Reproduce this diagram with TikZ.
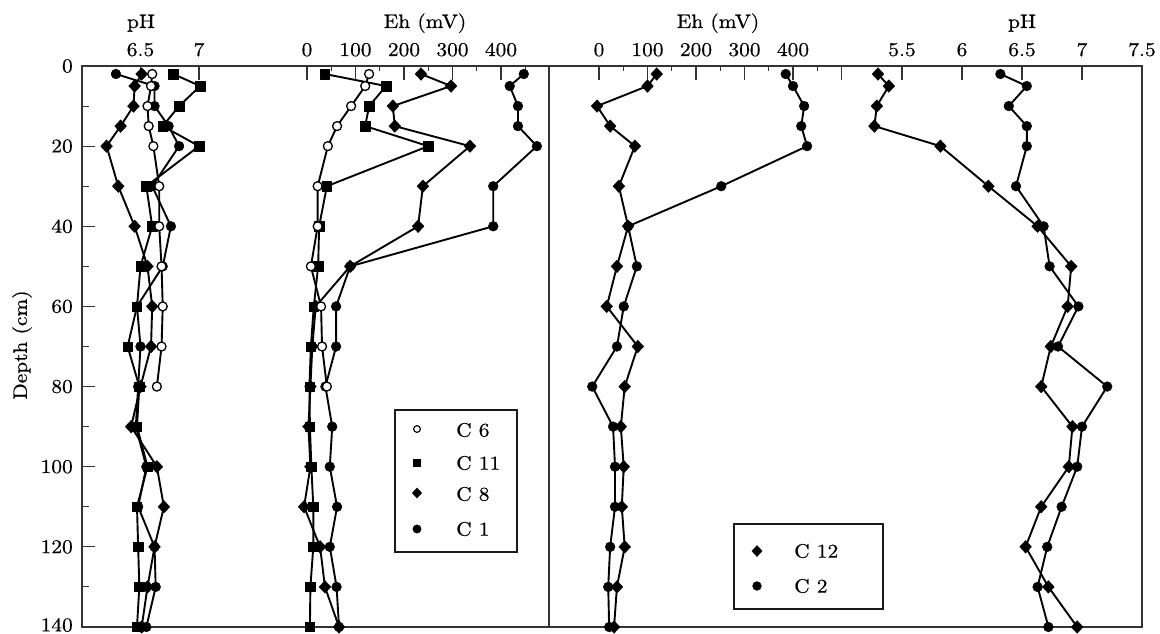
\documentclass[tikz,border=0pt]{standalone}
\usepackage{fontspec}
\setmainfont{lmroman10-regular.otf}[FakeBold=0.6, FakeStretch=1.1]
\usetikzlibrary{plotmarks}
\tikzset{
  lab/.style={font=\fontsize{19.5}{23}\selectfont, inner sep=0pt},
  frame/.style={line width=1.2pt, black!80},
  tickmaj/.style={line width=1.1pt, black!80},
  series/.style={line width=1.9pt, line join=round, black},
  mOpen/.style={mark=*, mark size=4.5pt, mark options={fill=white, draw=black, line width=1.3pt}},
  mSq/.style={mark=square*, mark size=4.7pt, mark options={fill=black, draw=black, line width=0.4pt}},
  mDia/.style={mark=diamond*, mark size=6.3pt, mark options={fill=black, draw=black, xscale=1.25, line width=0.4pt}},
  mDot/.style={mark=*, mark size=4.9pt, mark options={fill=black, draw=black, line width=0.4pt}},
  legbox/.style={line width=2pt, black!90},
}
\begin{document}
\begin{tikzpicture}[x=1pt,y=-1pt]
\useasboundingbox (0,0) rectangle (1160,634);

% ---------- frame ----------
\draw[frame] (82,66) rectangle (1142,627);
\draw[frame] (549,66) -- (549,627);

% ---------- depth axis ----------
\foreach \d in {0,20,...,120} {
  \draw[tickmaj] (82,{66+4.007*\d}) -- ++(13,0);
  \node[lab, anchor=east] (dl\d) at (73,{66+4.007*\d}) {\d};
}
\draw[tickmaj] (82,627) -- ++(13,0);
\node[lab, anchor=east] (dl140) at (73,625) {140};
\foreach \d in {10,30,...,130}
  \draw[tickmaj] (82,{66+4.007*\d}) -- ++(7,0);
\node[lab, rotate=90] (depthlab) at (22,345) {Depth (cm)};

% ---------- top axes: left pH ----------
\foreach \p/\n in {6.5/a,7/b} {
  \draw[tickmaj] ({82+(\p-6)*117},66) -- ++(0,14);
  \node[lab, anchor=base] (lph\n) at ({82+(\p-6)*117},56) {\p};
}
\node[lab, anchor=base] (lphtitle) at (141,28) {pH};

% ---------- top axes: left Eh ----------
\foreach \e in {0,100,...,400} {
  \draw[tickmaj] ({307+0.485*\e},66) -- ++(0,14);
  \node[lab, anchor=base] (leh\e) at ({307+0.485*\e},56) {\e};
}
\foreach \e in {50,150,...,450}
  \draw[tickmaj] ({307+0.485*\e},66) -- ++(0,5);
\node[lab, anchor=base] (lehtitle) at (425,28) {Eh (mV)};

% ---------- top axes: right Eh ----------
\foreach \e in {0,100,...,500}
  \draw[tickmaj] ({599+0.485*\e},66) -- ++(0,14);
\foreach \e in {0,100,...,400}
  \node[lab, anchor=base] (reh\e) at ({599+0.485*\e},56) {\e};
\foreach \e in {50,150,...,450}
  \draw[tickmaj] ({599+0.485*\e},66) -- ++(0,5);
\node[lab, anchor=base] (rehtitle) at (718,28) {Eh (mV)};

% ---------- top axes: right pH ----------
\foreach \p/\n in {5.5/a,6/b,6.5/c,7/d} {
  \draw[tickmaj] ({902+(\p-5.5)*120},66) -- ++(0,14);
  \node[lab, anchor=base] (rph\n) at ({902+(\p-5.5)*120},56) {\p};
}
\node[lab, anchor=base] (rphe) at (1142,56) {7.5};
\node[lab, anchor=base] (rphtitle) at (1022,28) {pH};

% ---------- left panel: pH ----------
\begin{scope}[shift={(-620,66)}, x=117pt, y=-4.007pt]
\draw[series, mSq] plot coordinates {(6.78,2) (7.01,5) (6.83,10) (6.69,15) (7.00,20) (6.55,30) (6.60,40) (6.50,50) (6.47,60) (6.39,70) (6.49,80) (6.47,90) (6.56,100) (6.47,110) (6.48,120) (6.49,130) (6.47,140)};
\draw[series, mDia] plot coordinates {(6.51,2) (6.45,5) (6.44,10) (6.33,15) (6.21,20) (6.31,30) (6.45,40) (6.56,50) (6.60,60) (6.59,70) (6.50,80) (6.42,90) (6.64,100) (6.70,110) (6.62,120) (6.56,130) (6.51,140)};
\draw[series, mDot] plot coordinates {(6.29,2) (6.62,5) (6.62,10) (6.74,15) (6.83,20) (6.60,30) (6.76,40) (6.69,50) (6.47,60) (6.50,70) (6.48,80) (6.46,90) (6.55,100) (6.48,110) (6.62,120) (6.63,130) (6.55,140)};
\draw[series, mOpen] plot coordinates {(6.60,2) (6.59,5) (6.56,10) (6.57,15) (6.61,20) (6.66,30) (6.66,40) (6.68,50) (6.69,60) (6.68,70) (6.64,80)};
\end{scope}

% ---------- left panel: Eh ----------
\begin{scope}[shift={(307,66)}, x=0.485pt, y=-4.007pt]
\draw[series, mSq] plot coordinates {(37,2) (163,5) (128,10) (120,15) (250,20) (41,30) (25,40) (23,50) (14,60) (8,70) (5,80) (6,90) (9,100) (13,110) (13,120) (7,130) (6,140)};
\draw[series, mDia] plot coordinates {(235,2) (297,5) (177,10) (181,15) (336,20) (239,30) (229,40) (89,50) (18,60) (11,70) (7,80) (3,90) (7,100) (-6,110) (27,120) (37,130) (66,140)};
\draw[series, mDot] plot coordinates {(447,2) (418,5) (435,10) (435,15) (474,20) (384,30) (384,40) (89,50) (60,60) (60,70) (38,80) (52,90) (47,100) (62,110) (47,120) (61,130) (66,140)};
\draw[series, mOpen] plot coordinates {(128,2) (120,5) (91,10) (62,15) (43,20) (22,30) (22,40) (8,50) (29,60) (31,70) (41,80)};
\end{scope}

% ---------- right panel: Eh ----------
\begin{scope}[shift={(599,66)}, x=0.485pt, y=-4.007pt]
\draw[series, mDia] plot coordinates {(119,2) (100,5) (-4,10) (23,15) (74,20) (41,30) (60,40) (37,50) (16,60) (80,70) (53,80) (45,90) (51,100) (47,110) (53,120) (37,130) (31,140)};
\draw[series, mDot] plot coordinates {(385,2) (400,5) (423,10) (417,15) (429,20) (252,30) (60,40) (78,50) (51,60) (37,70) (-14,80) (29,90) (33,100) (33,110) (23,120) (19,130) (21,140)};
\end{scope}

% ---------- right panel: pH ----------
\begin{scope}[shift={(242,66)}, x=120pt, y=-4.007pt]
\draw[series, mDia] plot coordinates {(5.30,2) (5.39,5) (5.29,10) (5.27,15) (5.82,20) (6.22,30) (6.63,40) (6.91,50) (6.88,60) (6.74,70) (6.66,80) (6.92,90) (6.89,100) (6.66,110) (6.53,120) (6.72,130) (6.96,140)};
\draw[series, mDot] plot coordinates {(6.32,2) (6.54,5) (6.39,10) (6.54,15) (6.54,20) (6.45,30) (6.68,40) (6.73,50) (6.97,60) (6.80,70) (7.21,80) (7.00,90) (6.96,100) (6.83,110) (6.71,120) (6.63,130) (6.72,140)};
\end{scope}

% ---------- left legend ----------
\draw[legbox] (395,410) rectangle (517,552);
\draw[mark=*, mark size=3.4pt, mark options={fill=white, draw=black, line width=1.1pt}] plot coordinates {(417,429)};
\draw[mark=square*, mark size=3.6pt, mark options={fill=black}] plot coordinates {(417,463)};
\draw[mark=diamond*, mark size=5pt, mark options={fill=black, xscale=1.25}] plot coordinates {(417,493)};
\draw[mark=*, mark size=4.2pt, mark options={fill=black}] plot coordinates {(417,529)};
\node[lab, anchor=west] (lg1) at (456,430) {C 6};
\node[lab, anchor=west] (lg2) at (456,463) {C 11};
\node[lab, anchor=west] (lg3) at (456,494) {C 8};
\node[lab, anchor=west] (lg4) at (456,529) {C 1};

% ---------- right legend ----------
\draw[legbox] (734,524) rectangle (883,609);
\draw[mark=diamond*, mark size=5.5pt, mark options={fill=black, xscale=1.25}] plot coordinates {(757,551)};
\draw[mark=*, mark size=4.4pt, mark options={fill=black}] plot coordinates {(757,586)};
\node[lab, anchor=west] (rg1) at (794,551) {C 12};
\node[lab, anchor=west] (rg2) at (794,586) {C 2};
\end{tikzpicture}
\end{document}
